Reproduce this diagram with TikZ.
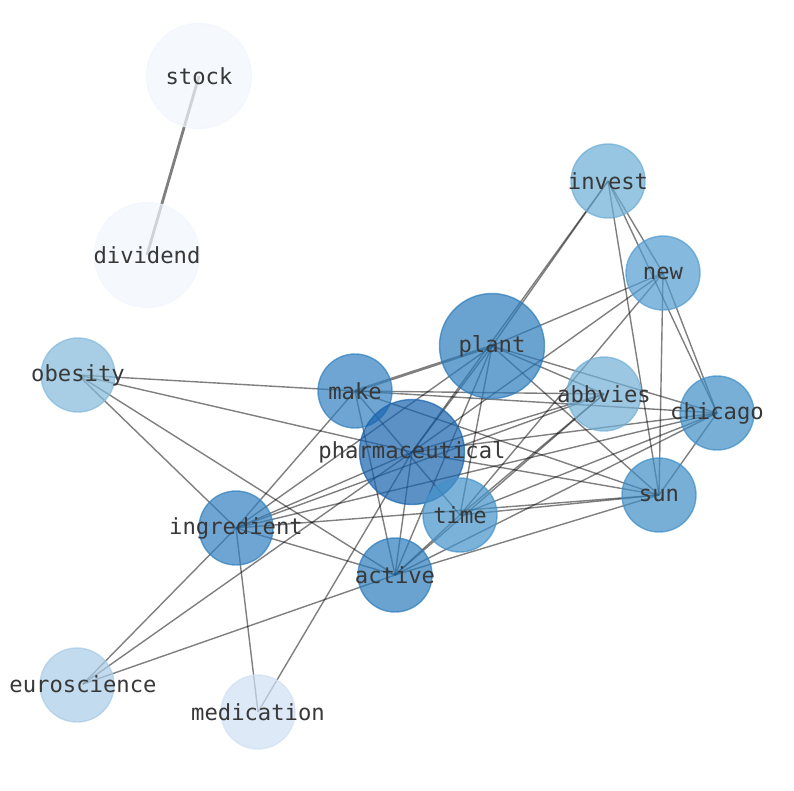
\documentclass[tikz,border=0pt]{standalone}
\usepackage{fontspec}
\newfontfamily\labfont{DejaVu Sans Mono}
\usetikzlibrary{backgrounds}
\definecolor{cStock}{HTML}{F1F7FE}
\definecolor{cMed}{HTML}{D1E1F4}
\definecolor{cEuro}{HTML}{A9CCE7}
\definecolor{cObes}{HTML}{84BADA}
\definecolor{cAbb}{HTML}{72B0D7}
\definecolor{cInv}{HTML}{6CAED6}
\definecolor{cNew}{HTML}{529CD0}
\definecolor{cChi}{HTML}{3E8EC7}
\definecolor{cSun}{HTML}{3E8EC7}
\definecolor{cTime}{HTML}{4392C9}
\definecolor{cMake}{HTML}{3180BF}
\definecolor{cIng}{HTML}{3180BF}
\definecolor{cAct}{HTML}{2C7CBC}
\definecolor{cPlant}{HTML}{2C7CBC}
\definecolor{cPharm}{HTML}{1863AD}
\definecolor{labc}{HTML}{383838}
\begin{document}
\begin{tikzpicture}[x=1pt,y=-1pt,
  vtx/.style={circle, inner sep=0pt, fill opacity=0.7, draw opacity=0.7, line width=1.4pt},
  bignode/.style={vtx, minimum size=105pt},
  smallnode/.style={vtx, minimum size=74pt},
  lab/.style={font=\labfont\fontsize{22.2pt}{26pt}\selectfont, text=labc, inner sep=0pt},
  edge/.style={draw=black, draw opacity=0.5, line width=1.4pt},
  wedge/.style={edge, line width=2.8pt}]
\useasboundingbox (0,0) rectangle (794,790);
% nodes
\node[bignode, fill=cStock, draw=cStock] (stock) at (199,76) {};
\node[bignode, fill=cStock, draw=cStock] (dividend) at (147,255) {};
\node[smallnode, fill=cInv, draw=cInv] (invest) at (608,181) {};
\node[smallnode, fill=cNew, draw=cNew] (new) at (663,273) {};
\node[bignode, fill=cPlant, draw=cPlant] (plant) at (492,346) {};
\node[smallnode, fill=cObes, draw=cObes] (obesity) at (78,375) {};
\node[smallnode, fill=cMake, draw=cMake] (make) at (355,391) {};
\node[smallnode, fill=cAbb, draw=cAbb] (abbvies) at (604,394) {};
\node[smallnode, fill=cChi, draw=cChi] (chicago) at (717,413) {};
\node[bignode, fill=cPharm, draw=cPharm] (pharm) at (412,452) {};
\node[smallnode, fill=cSun, draw=cSun] (sun) at (659,495) {};
\node[smallnode, fill=cTime, draw=cTime] (time) at (460,515) {};
\node[smallnode, fill=cIng, draw=cIng] (ingredient) at (236,528) {};
\node[smallnode, fill=cAct, draw=cAct] (active) at (395,575) {};
\node[smallnode, fill=cEuro, draw=cEuro] (euro) at (77,685) {};
\node[smallnode, fill=cMed, draw=cMed] (medication) at (258,712) {};
\coordinate (euro-hub) at (83,684);
% labels
\node[lab] (stock-t) at (stock) {stock};
\node[lab] (dividend-t) at (dividend) {dividend};
\node[lab] (invest-t) at (invest) {invest};
\node[lab] (new-t) at (new) {new};
\node[lab] (plant-t) at (plant) {plant};
\node[lab] (obesity-t) at (obesity) {obesity};
\node[lab] (make-t) at (make) {make};
\node[lab] (abbvies-t) at (abbvies) {abbvies};
\node[lab] (chicago-t) at (chicago) {chicago};
\node[lab] (pharm-t) at (pharm) {pharmaceutical};
\node[lab] (sun-t) at (sun) {sun};
\node[lab] (time-t) at (time) {time};
\node[lab] (ingredient-t) at (ingredient) {ingredient};
\node[lab] (active-t) at (active) {active};
\node[lab] (euro-t) at (euro-hub) {euroscience};
\node[lab] (medication-t) at (medication) {medication};
% edges
\begin{pgfonlayer}{background}
\fill[white] (0,0) rectangle (794,790);
\draw[wedge] (stock.center) -- (dividend.center);
\draw[wedge] (plant.center) -- (make.center);
\foreach \a/\b in {invest/plant, invest/pharm, invest/new, invest/chicago, invest/sun,
  new/plant, new/pharm, new/time, new/sun, new/chicago,
  plant/pharm, plant/ingredient, plant/active, plant/time, plant/sun, plant/chicago, plant/abbvies,
  make/abbvies, make/chicago, make/sun, make/time, make/active, make/ingredient,
  obesity/make, obesity/pharm, obesity/active, obesity/ingredient,
  pharm/sun, pharm/chicago, pharm/abbvies, pharm/ingredient, pharm/active, pharm/medication,
  ingredient/sun, ingredient/abbvies, ingredient/chicago, ingredient/active, ingredient/medication,
  active/time, active/sun, active/chicago, active/abbvies,
  time/sun, time/chicago, time/abbvies, chicago/sun}
  \draw[edge] (\a.center) -- (\b.center);
\foreach \b in {pharm, ingredient, active}
  \draw[edge] (euro-hub) -- (\b.center);
\end{pgfonlayer}
\end{tikzpicture}
\end{document}
